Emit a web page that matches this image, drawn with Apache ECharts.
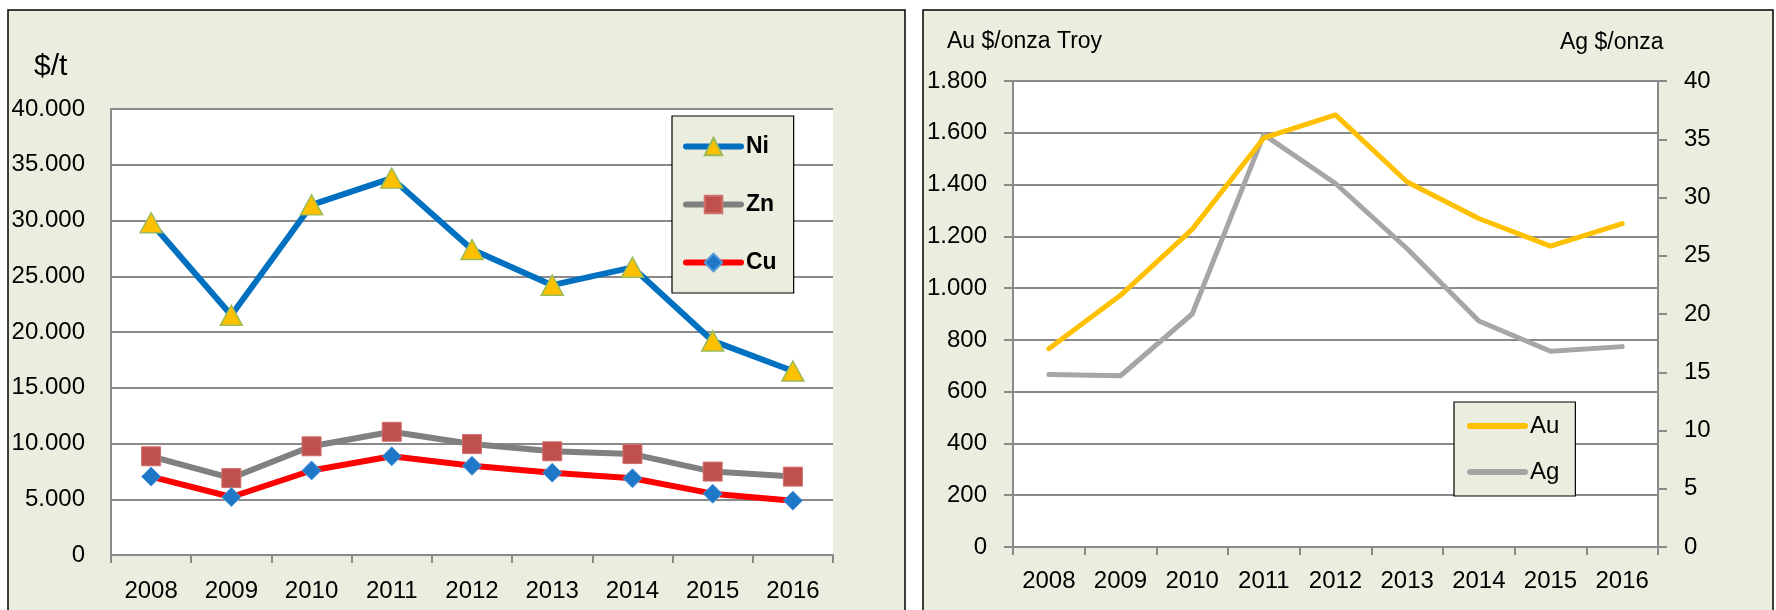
<!DOCTYPE html>
<html>
<head>
<meta charset="utf-8">
<script src="https://cdn.jsdelivr.net/npm/echarts@6/dist/echarts.min.js"></script>
<style>
html,body{margin:0;padding:0;background:#fff;}
#c{width:1776px;height:610px;}
</style>
</head>
<body>
<div id="c"></div>
<script>
// ---- data ----
const years = ['2008','2009','2010','2011','2012','2013','2014','2015','2016'];
const ni = [29800, 21500, 31400, 33800, 27400, 24200, 25800, 19200, 16500];
const zn = [8850, 6900, 9750, 11050, 9950, 9300, 9050, 7480, 7030];
const cu = [7030, 5200, 7580, 8850, 8000, 7380, 6880, 5500, 4870];
const au = [766, 972, 1227, 1580, 1669, 1410, 1269, 1162, 1249];
const ag = [14.8, 14.7, 20.0, 35.4, 31.2, 25.6, 19.4, 16.8, 17.2];

const FONT = 'Liberation Sans';
const PANEL = '#EBEEDF';
const GRIDC = '#8a8a8a';

function dotThousands(v){
  return String(v).replace(/\B(?=(\d{3})+(?!\d))/g, '.');
}

const chart = echarts.init(document.getElementById('c'), null, {renderer:'canvas'});

const axisLabelBase = {color:'#000', fontFamily:FONT, fontSize:24};

const option = {
  animation:false,
  backgroundColor:'#fff',
  graphic:[
    {type:'rect', z:-10, shape:{x:8, y:10, width:897, height:612}, style:{fill:PANEL, stroke:'#000', lineWidth:1.5}},
    {type:'rect', z:-10, shape:{x:923, y:10, width:850, height:612}, style:{fill:PANEL, stroke:'#000', lineWidth:1.5}},
    {type:'text', left:34, top:52, style:{text:'$/t', font:'30px "Liberation Sans"', fill:'#000'}},
    {type:'text', left:947, top:30, style:{text:'Au $/onza Troy', font:'23px "Liberation Sans"', fill:'#000'}},
    {type:'text', left:1560, top:31, style:{text:'Ag $/onza', font:'23px "Liberation Sans"', fill:'#000'}}
  ],
  grid:[
    {left:111, top:109, width:722, height:446, show:true, backgroundColor:'#fff', borderWidth:0, z:0},
    {left:1013, top:81, width:645, height:466, show:true, backgroundColor:'#fff', borderWidth:0, z:0}
  ],
  legend:[
    {
      data:['Ni','Zn','Cu'], orient:'vertical', left:672, top:116,
      padding:[19,17,19,11], itemWidth:55, itemHeight:22, itemGap:35,
      backgroundColor:PANEL, borderColor:'#000', borderWidth:1.2,
      lineStyle:{width:6},
      textStyle:{fontFamily:FONT, fontSize:23, fontWeight:'bold', color:'#000', lineHeight:22}
    },
    {
      data:['Au','Ag'], orient:'vertical', left:1454, top:402,
      padding:[12,16,12,13], itemWidth:55, itemHeight:24, itemGap:22,
      backgroundColor:PANEL, borderColor:'#000', borderWidth:1.2,
      lineStyle:{width:6},
      itemStyle:{opacity:0},
      textStyle:{fontFamily:FONT, fontSize:24, color:'#000', lineHeight:24}
    }
  ],
  xAxis:[
    {
      type:'category', gridIndex:0, data:years, boundaryGap:true,
      axisLine:{lineStyle:{color:GRIDC, width:2}},
      axisTick:{show:true, interval:0, length:8, lineStyle:{color:GRIDC, width:2}},
      axisLabel:Object.assign({margin:24, interval:0}, axisLabelBase)
    },
    {
      type:'category', gridIndex:1, data:years, boundaryGap:true,
      axisLine:{lineStyle:{color:GRIDC, width:2}},
      axisTick:{show:true, interval:0, length:8, lineStyle:{color:GRIDC, width:2}},
      axisLabel:Object.assign({margin:22, interval:0}, axisLabelBase)
    }
  ],
  yAxis:[
    {
      type:'value', gridIndex:0, min:0, max:40000, interval:5000,
      axisLine:{show:true, lineStyle:{color:GRIDC, width:2}},
      axisTick:{show:false},
      splitLine:{show:true, lineStyle:{color:GRIDC, width:2}},
      axisLabel:Object.assign({margin:26, formatter:dotThousands}, axisLabelBase)
    },
    {
      type:'value', gridIndex:1, min:0, max:1800, interval:200, position:'left',
      axisLine:{show:true, lineStyle:{color:GRIDC, width:2}},
      axisTick:{show:true, length:9, lineStyle:{color:GRIDC, width:2}},
      splitLine:{show:true, lineStyle:{color:GRIDC, width:2}},
      axisLabel:Object.assign({margin:26, formatter:dotThousands}, axisLabelBase)
    },
    {
      type:'value', gridIndex:1, min:0, max:40, interval:5, position:'right',
      axisLine:{show:true, lineStyle:{color:GRIDC, width:2}},
      axisTick:{show:true, length:9, lineStyle:{color:GRIDC, width:2}},
      splitLine:{show:false},
      axisLabel:Object.assign({margin:26}, axisLabelBase)
    }
  ],
  series:[
    {
      name:'Zn', type:'line', xAxisIndex:0, yAxisIndex:0, data:zn,
      symbol:'rect', symbolSize:19, showAllSymbol:true,
      lineStyle:{color:'#808080', width:6, cap:'round', join:'round'},
      itemStyle:{color:'#C0504D', borderColor:'#D0706D', borderWidth:1}, z:3
    },
    {
      name:'Cu', type:'line', xAxisIndex:0, yAxisIndex:0, data:cu,
      symbol:'diamond', symbolSize:19, showAllSymbol:true,
      lineStyle:{color:'#FF0000', width:6, cap:'round', join:'round'},
      itemStyle:{color:'#1F77C8', borderColor:'#4F97D8', borderWidth:1}, z:4
    },
    {
      name:'Ni', type:'line', xAxisIndex:0, yAxisIndex:0, data:ni,
      symbol:'triangle', symbolSize:[22,20], showAllSymbol:true,
      lineStyle:{color:'#0070C0', width:6, cap:'round', join:'round'},
      itemStyle:{color:'#FFC000', borderColor:'#9BBB59', borderWidth:1.5}, z:5
    },
    {
      name:'Ag', type:'line', xAxisIndex:1, yAxisIndex:2, data:ag,
      symbol:'none',
      lineStyle:{color:'#A6A6A6', width:5, cap:'round', join:'round'},
      itemStyle:{color:'#A6A6A6'}, z:3
    },
    {
      name:'Au', type:'line', xAxisIndex:1, yAxisIndex:1, data:au,
      symbol:'none',
      lineStyle:{color:'#FFC000', width:5, cap:'round', join:'round'},
      itemStyle:{color:'#FFC000'}, z:4
    }
  ]
};
chart.setOption(option);
</script>
</body>
</html>
